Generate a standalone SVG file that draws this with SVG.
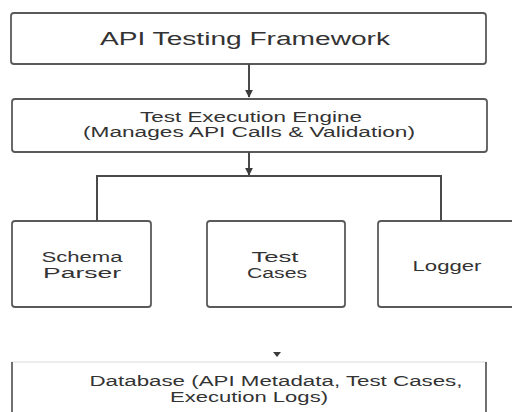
<svg xmlns="http://www.w3.org/2000/svg" width="512" height="412" viewBox="0 0 512 412">
<style>
.box{fill:#ffffff;stroke:#5a5a5a;stroke-width:1.8}
.t{font-family:"Liberation Sans",Arial,sans-serif;fill:#333333;text-anchor:middle}
.conn{stroke:#4a4a4a;stroke-width:2;fill:none}
</style>
<defs>
<marker id="ah" viewBox="0 0 10 10" refX="9" refY="5" markerWidth="4" markerHeight="4" orient="auto" markerUnits="strokeWidth">
<path d="M0,0 L10,5 L0,10 z" fill="#3a3a3a"/>
</marker>
</defs>
<rect width="512" height="412" fill="#ffffff"/>
<g id="framework">
<rect class="box" x="11" y="13" width="475" height="51" rx="3"/>
<text class="t" x="245" y="45" font-size="18" textLength="290" lengthAdjust="spacingAndGlyphs">API Testing Framework</text>
</g>
<g id="engine">
<rect class="box" x="12" y="99" width="475" height="53" rx="3"/>
<text class="t" x="251" y="122" font-size="14" textLength="222" lengthAdjust="spacingAndGlyphs">Test Execution Engine</text>
<text class="t" x="249" y="137" font-size="14" textLength="332" lengthAdjust="spacingAndGlyphs">(Manages API Calls &amp; Validation)</text>
</g>
<g id="schema">
<rect class="box" x="12" y="221" width="139" height="86" rx="3"/>
<text class="t" x="82" y="262" font-size="14" textLength="81" lengthAdjust="spacingAndGlyphs">Schema</text>
<text class="t" x="82" y="278" font-size="14" textLength="78" lengthAdjust="spacingAndGlyphs">Parser</text>
</g>
<g id="testcases">
<rect class="box" x="207" y="221" width="138" height="86" rx="3"/>
<text class="t" x="275" y="262" font-size="14" textLength="47" lengthAdjust="spacingAndGlyphs">Test</text>
<text class="t" x="277" y="278" font-size="14" textLength="60" lengthAdjust="spacingAndGlyphs">Cases</text>
</g>
<g id="logger">
<rect class="box" x="378" y="221" width="142" height="86" rx="3"/>
<text class="t" x="447" y="271" font-size="14" textLength="69" lengthAdjust="spacingAndGlyphs">Logger</text>
</g>
<g id="database">
<path d="M12,412 V362 H486 V412" fill="#ffffff" stroke="#e6e6e6" stroke-width="1.5"/>
<path d="M12,412 V362 M486,362 V412" stroke="#707070" stroke-width="2" fill="none"/>
<text class="t" x="276" y="386" font-size="14" textLength="373" lengthAdjust="spacingAndGlyphs">Database (API Metadata, Test Cases,</text>
<text class="t" x="249" y="402" font-size="14" textLength="158" lengthAdjust="spacingAndGlyphs">Execution Logs)</text>
</g>
<g id="connectors">
<line class="conn" x1="249" y1="64" x2="249" y2="97" marker-end="url(#ah)"/>
<line class="conn" x1="249" y1="152" x2="249" y2="175" marker-end="url(#ah)"/>
<path class="conn" d="M97,221 V176 H441 V221"/>
<path d="M273,352 L281,352 L277,357 z" fill="#3a3a3a"/>
</g>
</svg>
